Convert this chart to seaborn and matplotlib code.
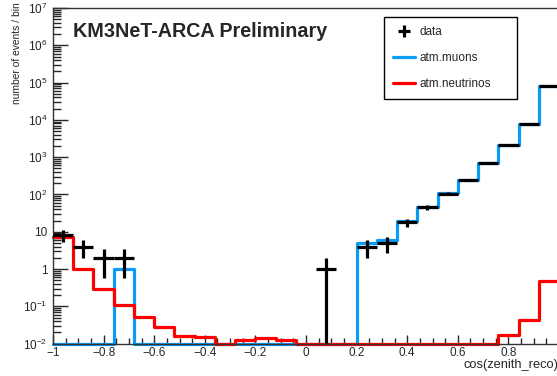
import numpy as np
import pandas as pd
import matplotlib
matplotlib.use("Agg")
import matplotlib.pyplot as plt
import seaborn as sns
from matplotlib.ticker import FixedLocator, NullFormatter

# 25 bins in cos(zenith_reco), -1 .. 1
bin_edges = np.linspace(-1, 1, 26)
bin_centers = 0.5 * (bin_edges[:-1] + bin_edges[1:])

data_counts = [8, 4, 2, 2, 0, 0, 0, 0, 0, 0, 0, 0, 0, 1, 0,
               4, 5, 18, 46, 105, 240, 690, 2100, 7800, 82000]
muons = [0, 0, 0, 1, 0, 0, 0, 0, 0, 0, 0, 0, 0, 0, 0,
         5.1, 6.0, 19.7, 47, 107, 245, 693, 2100, 7700, 81000]
neutrinos = [7.1, 1.0, 0.29, 0.108, 0.053, 0.028, 0.016, 0.015, 0, 0.0125,
             0.014, 0.0125, 0, 0, 0, 0, 0, 0, 0, 0, 0, 0, 0.017, 0.043, 0.49]

x_ticks = [-1, -0.8, -0.6, -0.4, -0.2, 0, 0.2, 0.4, 0.6, 0.8]
x_tick_labels = ['\u22121', '\u22120.8', '\u22120.6', '\u22120.4', '\u22120.2',
                 '0', '0.2', '0.4', '0.6', '0.8']
y_ticks = [1e-2, 1e-1, 1, 10, 1e2, 1e3, 1e4, 1e5, 1e6, 1e7]
y_tick_labels = [r'$\mathregular{10^{-2}}$', r'$\mathregular{10^{-1}}$', '1', '10',
                 r'$\mathregular{10^{2}}$', r'$\mathregular{10^{3}}$', r'$\mathregular{10^{4}}$',
                 r'$\mathregular{10^{5}}$', r'$\mathregular{10^{6}}$', r'$\mathregular{10^{7}}$']

ymin, ymax = 1e-2, 1e7

# ROOT draws empty / tiny bins on the lower frame
df = pd.DataFrame({'x': bin_centers,
                   'mu': np.clip(muons, ymin, None),
                   'nu': np.clip(neutrinos, ymin, None)})

sns.set_style('ticks')
plt.rcParams['font.family'] = ['Liberation Sans', 'DejaVu Sans']
plt.rcParams['mathtext.fontset'] = 'custom'
plt.rcParams['mathtext.rm'] = 'Liberation Sans'

fig = plt.figure(figsize=(5.57, 3.76), dpi=100)
ax = fig.add_axes([53 / 557, 32.4 / 376, 506 / 557, 335.6 / 376])

blue = '#0a9bf5'
red = '#ff0000'

sns.histplot(data=df, x='x', weights='mu', bins=list(bin_edges),
             element='step', fill=False, color=blue, linewidth=2.3,
             clip_on=False, label='atm.muons', ax=ax)
sns.histplot(data=df, x='x', weights='nu', bins=list(bin_edges),
             element='step', fill=False, color=red, linewidth=2.3,
             clip_on=False, label='atm.neutrinos', ax=ax)

counts = np.array(data_counts, dtype=float)
m = counts > 0
err = np.sqrt(counts[m])
lo = np.minimum(err, counts[m] - ymin)
ax.errorbar(bin_centers[m], counts[m], xerr=0.04, yerr=[lo, err], fmt='none',
            ecolor='black', elinewidth=2.3, capsize=0, label='data', zorder=5)

ax.set_yscale('log')
ax.set_xlim(-1, 1)
ax.set_ylim(ymin, ymax)

ax.set_xticks(x_ticks)
ax.set_xticklabels(x_tick_labels)
ax.xaxis.set_minor_locator(FixedLocator(np.arange(-1, 1.001, 0.05)))
ax.set_yticks(y_ticks)
ax.set_yticklabels(y_tick_labels)
ax.yaxis.set_minor_locator(FixedLocator([k * 10.0 ** e for e in range(-2, 7) for k in range(2, 10)]))
ax.yaxis.set_minor_formatter(NullFormatter())

ax.tick_params(axis='x', which='major', direction='in', length=6.5, width=1, labelsize=8.5, pad=2.5)
ax.tick_params(axis='x', which='minor', direction='in', length=4.3, width=1)
ax.tick_params(axis='y', which='major', direction='in', length=10.8, width=1, labelsize=8.5, pad=4)
ax.tick_params(axis='y', which='minor', direction='in', length=5.8, width=1)
for s in ax.spines.values():
    s.set_linewidth(1.0)
    s.set_color('#333333')

ax.set_ylabel('number of events / bin', fontsize=7.4, loc='top')
ax.yaxis.set_label_coords(-0.062, 1.018)
ax.set_xlabel('cos(zenith_reco)', fontsize=9.3, loc='right')
ax.xaxis.set_label_coords(1.0, -0.047)
ax.xaxis.label.set_va('top')

ax.text(0.04, 0.914, 'KM3NeT-ARCA Preliminary', transform=ax.transAxes,
        fontsize=14.2, fontweight='bold', va='baseline', ha='left')

handles, labels = ax.get_legend_handles_labels()
order = [labels.index(l) for l in ['data', 'atm.muons', 'atm.neutrinos']]
leg = ax.legend([handles[i] for i in order], [labels[i] for i in order],
                loc='upper left', bbox_to_anchor=(0.654, 0.735, 0.263, 0.238),
                mode='expand', fontsize=8.5, frameon=True, fancybox=False,
                shadow=False, framealpha=1, edgecolor='black', borderpad=0.75,
                labelspacing=1.2, handlelength=1.85, handletextpad=0.42,
                borderaxespad=0)
leg.get_frame().set_linewidth(1.0)

fig.savefig('out.png', dpi=100)
